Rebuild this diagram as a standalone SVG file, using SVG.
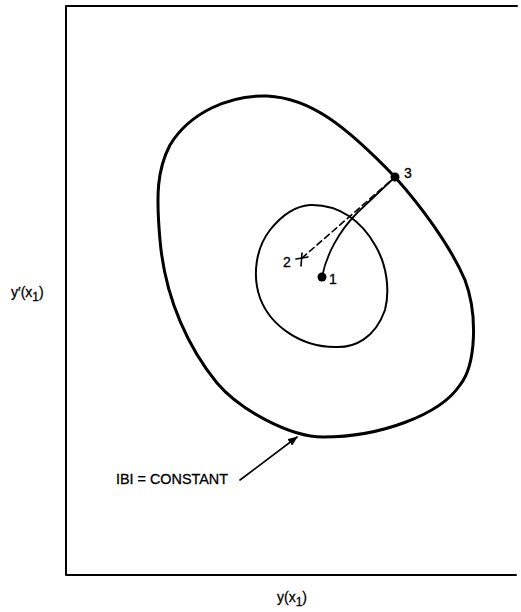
<svg xmlns="http://www.w3.org/2000/svg" width="521" height="612" viewBox="0 0 521 612">
<style>
.t{font-family:"Liberation Sans","DejaVu Sans",sans-serif;font-size:14px;fill:#000;stroke:#000;stroke-width:0.3}
.ln{fill:none;stroke:#000;stroke-linecap:round;stroke-linejoin:round}
</style>
<defs>
<marker id="ah" markerWidth="10" markerHeight="8" refX="9" refY="4" orient="auto" markerUnits="userSpaceOnUse">
<path d="M0,0 L10,4 L0,8 Z" fill="#000"/>
</marker>
</defs>
<rect width="521" height="612" fill="#fff"/>
<g id="frame">
<path class="ln" d="M517,6 L66,6 L66,575 L516,575" stroke-width="2"/>
</g>
<g id="outer-contour">
<path class="ln" stroke-width="3" d="M395,177 C420,205 450,245 465,280 C478,315 476,365 460,385 C440,415 380,437 323,437 C290,437 240,410 217,383 C190,350 165,300 160,240 C156,195 157,170 170,145 C190,112 230,95 267,96 C310,98 345,125 395,177 Z"/>
</g>
<g id="inner-contour">
<path class="ln" stroke-width="2" d="M310,205 C340,204 362,222 375,245 C387,265 390,290 385,310 C375,338 355,348 335,347 C300,347 270,325 260,298 C252,275 256,248 270,230 C282,215 295,206 310,205 Z"/>
</g>
<g id="connectors">
<path class="ln" stroke-width="1.8" d="M322,277 C326,256 338,232 358,212 L395,177"/>
<path class="ln" stroke-width="1.6" stroke-dasharray="6,4" d="M302,258 L395,177"/>
<path class="ln" stroke-width="1.6" d="M240,480 L297,437" marker-end="url(#ah)"/>
</g>
<g id="point-1">
<circle cx="322" cy="277" r="4.5" fill="#000"/>
<text class="t" x="329" y="284">1</text>
</g>
<g id="point-2">
<path class="ln" stroke-width="1.6" d="M296,259 L308,257 M302,253 L301,266"/>
<text class="t" x="283" y="267">2</text>
</g>
<g id="point-3">
<circle cx="395" cy="177" r="4.5" fill="#000"/>
<text class="t" x="404" y="178">3</text>
</g>
<g id="labels">
<text class="t" x="116" y="484" textLength="112" lengthAdjust="spacingAndGlyphs">IBI = CONSTANT</text>
<text class="t" x="11" y="297">y′(x<tspan dy="4" font-size="12">1</tspan><tspan dy="-4">)</tspan></text>
<text class="t" x="277" y="602">y(x<tspan dy="4" font-size="12">1</tspan><tspan dy="-4">)</tspan></text>
</g>
</svg>
